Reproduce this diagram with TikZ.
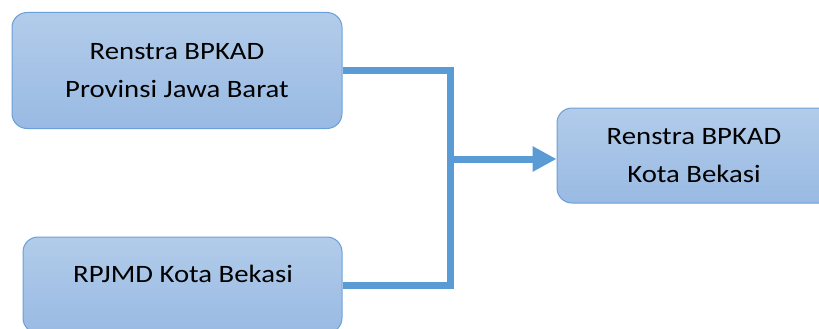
\documentclass[tikz,border=0pt]{standalone}
\usepackage{fontspec}
\setmainfont{Carlito}[FakeStretch=1.15]
\usetikzlibrary{arrows.meta}
\definecolor{lineblue}{HTML}{5B9BD5}
\definecolor{boxtop}{HTML}{B2CCEA}
\definecolor{boxbot}{HTML}{99BAE3}
\definecolor{boxedge}{HTML}{6A9FD8}
\tikzset{
  box/.style={draw=boxedge, line width=1pt, rounded corners=15pt, top color=boxtop, bottom color=boxbot,
    align=center, inner sep=0pt, font=\fontsize{25}{38}\selectfont, text=black},
  txt/.style={inner sep=0pt, align=center, font=\fontsize{25}{38}\selectfont, text=black},
  conn/.style={draw=lineblue, line width=7pt, line join=miter},
}
\begin{document}
\begin{tikzpicture}[x=1pt,y=-1pt]
\useasboundingbox (0,0) rectangle (819,329);
\clip (0,0) rectangle (819,329);
\node[box, minimum width=330pt, minimum height=116pt] (b1) at (177,70.5) {Renstra BPKAD\\Provinsi Jawa Barat};
\node[box, minimum width=319pt, minimum height=96pt] (b2) at (182.5,285) {};
\node[txt] (t2) at (183,274) {RPJMD Kota Bekasi};
\node[box, minimum width=300pt, minimum height=95pt] (b3) at (707,155.5) {};
\node[txt] (t3) at (694,155.5) {Renstra BPKAD\\Kota Bekasi};
\coordinate (top) at (450.5,70.5);
\coordinate (bot) at (450.5,285);
\coordinate (j) at (450.5,159);
\draw[conn] (b1.east) -- (top) -- (bot) -- (b2.east);
\draw[conn, -{Triangle[length=24pt,width=24pt]}] (j) -- (j -| b3.west);
\end{tikzpicture}
\end{document}
